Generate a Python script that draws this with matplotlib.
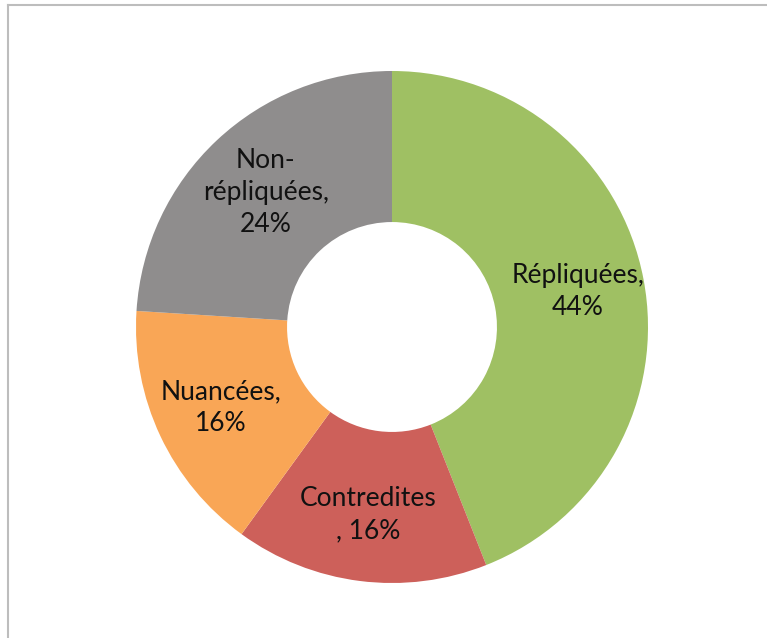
import matplotlib
matplotlib.use("Agg")
import matplotlib.pyplot as plt
import numpy as np
from matplotlib.lines import Line2D

# données
labels = ["Répliquées,\n44%", "Contredites\n, 16%", "Nuancées,\n16%", "Non-\nrépliquées,\n24%"]
values = [44, 16, 16, 24]
colors = ["#9fc063", "#cd605a", "#f9a656", "#8f8d8d"]

plt.rcParams["font.family"] = ["Lato", "DejaVu Sans"]

W, H = 767, 638
fig = plt.figure(figsize=(W / 100, H / 100), dpi=100)

# cadre gris clair (seuls les bords haut et gauche sont visibles)
fig.add_artist(Line2D([8 / W, 1], [1 - 5 / H, 1 - 5 / H], color="#bdbdbd", lw=1.5,
                      transform=fig.transFigure))
fig.add_artist(Line2D([8 / W, 8 / W], [0, 1 - 5 / H], color="#bdbdbd", lw=1.5,
                      transform=fig.transFigure))

cx, cy, r = 392, 327, 256
ax = fig.add_axes([(cx - r) / W, (H - cy - r) / H, 2 * r / W, 2 * r / H])
wedges, _ = ax.pie(values, colors=colors, startangle=90, counterclock=False,
                   radius=1.0, wedgeprops=dict(width=0.59, linewidth=0))

for w, lab in zip(wedges, labels):
    ang = np.deg2rad((w.theta1 + w.theta2) / 2)
    rr = 0.72 if lab.startswith("Non") else 0.74
    ax.text(rr * np.cos(ang), rr * np.sin(ang), lab, ha="center", va="center",
            fontsize=19, color="#111111", linespacing=1.35)

ax.set_xlim(-1, 1)
ax.set_ylim(-1, 1)
ax.set_aspect("equal")
ax.axis("off")

fig.savefig("out.png", dpi=100)
